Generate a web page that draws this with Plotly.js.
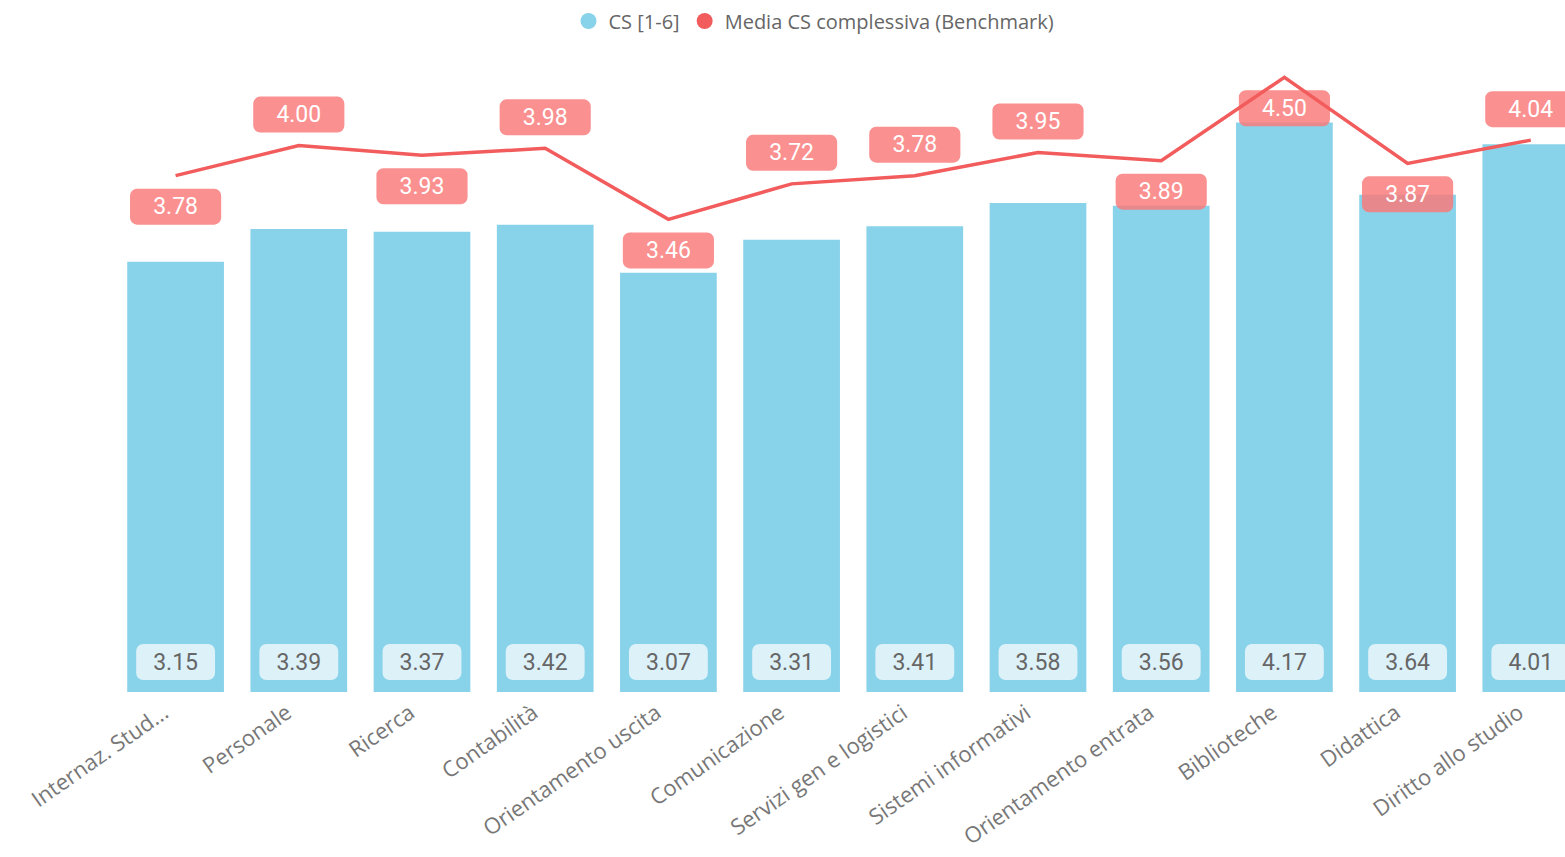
<!DOCTYPE html>
<html>
<head>
<meta charset="utf-8">
<script src="https://cdn.plot.ly/plotly-3.0.1.min.js"></script>
<style>
  html, body { margin: 0; padding: 0; background: #fff; }
  #chart { width: 1565px; height: 857px; }
</style>
</head>
<body>
<div id="chart"></div>
<script>
// ---- data ----
const categories = [
  "Internaz. Stud...", "Personale", "Ricerca", "Contabilità", "Orientamento uscita",
  "Comunicazione", "Servizi gen e logistici", "Sistemi informativi",
  "Orientamento entrata", "Biblioteche", "Didattica", "Diritto allo studio"
];
const csValues = [3.15, 3.39, 3.37, 3.42, 3.07, 3.31, 3.41, 3.58, 3.56, 4.17, 3.64, 4.01];
const benchmarkValues = [3.78, 4.00, 3.93, 3.98, 3.46, 3.72, 3.78, 3.95, 3.89, 4.50, 3.87, 4.04];
const seriesNames = ["CS [1-6]", "Media CS complessiva (Benchmark)"];
// label placement for the benchmark data labels (style, not data)
const benchmarkLabelSide = ["below", "above", "below", "above", "below", "above",
                            "above", "above", "below", "below", "below", "above"];

// ---- layout geometry ----
const W = 1565, H = 857;
const mL = 114, mR = 0, mT = 50, mB = 165;
const plotH = H - mT - mB;
const yMax = 4.70;
const pxPerUnit = plotH / yMax;
const px = p => p / pxPerUnit;  // pixels -> data units

const barColor = "#89D3EA";
const lineColor = "#F25C5C";
const numFont = "Roboto, 'DejaVu Sans', sans-serif";
const textFont = "'Open Sans', 'Segoe UI', sans-serif";

const fmt = v => v.toFixed(2);

const traces = [];

// main bars
traces.push({
  type: "bar", x: categories, y: csValues, name: seriesNames[0],
  marker: { color: barColor }, width: 0.785, showlegend: false, hoverinfo: "skip"
});

// bottom value boxes
traces.push({
  type: "bar", x: categories, y: csValues.map(() => px(36)), base: csValues.map(() => px(12)),
  text: csValues.map(fmt), textposition: "inside", insidetextanchor: "middle", textangle: 0,
  constraintext: "none",
  insidetextfont: { family: numFont, size: 23, color: "#666666" },
  marker: { color: "#DDF1F8", cornerradius: 7 }, width: 0.64,
  showlegend: false, hoverinfo: "skip"
});

// benchmark label boxes
traces.push({
  type: "bar", x: categories,
  y: benchmarkValues.map(() => px(36)),
  base: benchmarkValues.map((v, i) => benchmarkLabelSide[i] === "above" ? v + px(13) : v - px(49)),
  text: benchmarkValues.map(fmt), textposition: "inside", insidetextanchor: "middle", textangle: 0,
  constraintext: "none",
  insidetextfont: { family: numFont, size: 23, color: "#FFFFFF" },
  marker: { color: "rgba(250,120,120,0.82)", cornerradius: 7 }, width: 0.74,
  showlegend: false, hoverinfo: "skip"
});

// benchmark line
traces.push({
  type: "scatter", mode: "lines", x: categories, y: benchmarkValues, name: seriesNames[1],
  line: { color: lineColor, width: 3.5 }, showlegend: false, hoverinfo: "skip", cliponaxis: true
});

// legend entries (circles)
traces.push({
  type: "scatter", mode: "markers", x: [null], y: [null], name: seriesNames[0],
  marker: { color: barColor, size: 20, symbol: "circle" }, hoverinfo: "skip"
});
traces.push({
  type: "scatter", mode: "markers", x: [null], y: [null], name: seriesNames[1],
  marker: { color: lineColor, size: 20, symbol: "circle" }, hoverinfo: "skip"
});

const layout = {
  width: W, height: H,
  margin: { l: mL, r: mR, t: mT, b: mB, pad: 0 },
  paper_bgcolor: "#fff", plot_bgcolor: "#fff",
  barmode: "overlay",
  showlegend: true,
  legend: {
    orientation: "h", x: (814 - mL) / (W - mL - mR), xanchor: "center",
    y: (H - mB - 21) / plotH, yanchor: "middle",
    font: { family: textFont, size: 20, color: "#666666" },
    itemsizing: "trace", tracegroupgap: 0, itemwidth: 30
  },
  xaxis: {
    type: "category", range: [-0.5, -0.5 + (W - mL - mR) / 123.2],
    tickangle: -35, ticklabelshift: -12, ticklabelstandoff: 3,
    showgrid: false, zeroline: false, showline: false, ticks: "",
    tickfont: { family: textFont, size: 22, color: "#777777" }, fixedrange: true
  },
  yaxis: {
    range: [0, yMax], visible: false, showgrid: false, zeroline: false, fixedrange: true
  },
  font: { family: textFont }
};

Plotly.newPlot("chart", traces, layout, { displayModeBar: false, staticPlot: true });
</script>
</body>
</html>
